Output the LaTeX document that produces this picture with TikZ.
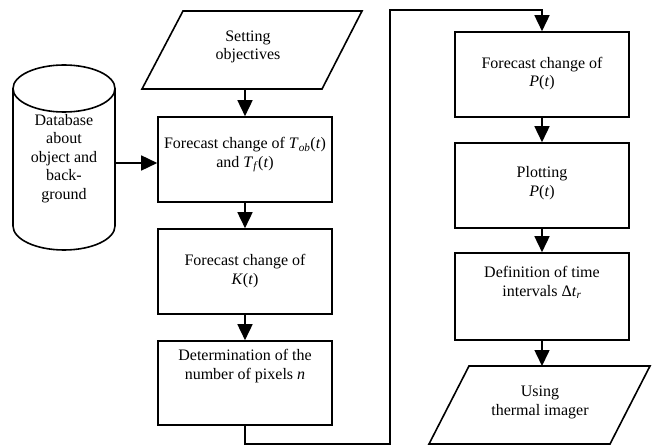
\documentclass[tikz,border=0pt]{standalone}
\usepackage{fontspec}
\setmainfont{Liberation Serif}
\usetikzlibrary{arrows.meta}
\tikzset{
  lbl/.style={align=center, inner sep=0pt, font=\fontsize{16}{18.5}\selectfont},
  procbox/.style={draw, line width=1.6pt, minimum width=174pt, inner sep=0pt},
  shp/.style={line width=1.6pt},
  arr/.style={line width=1.6pt, -{Triangle[length=16pt,width=15pt]}},
}
\newcommand{\itl}[1]{\textit{#1}}
\begin{document}
\begin{tikzpicture}[x=1pt,y=-1pt]
\useasboundingbox (0,0) rectangle (652,446);
% cylinder
\draw[shp] (13,88.5) -- (13,226) arc[start angle=180,end angle=360,x radius=51pt,y radius=24pt] -- (115,88.5);
\draw[shp] (64,88.5) ellipse[x radius=51pt, y radius=23.5pt];
\node[lbl] (db) at (64,158.5) {Database\\about\\object and\\back-\\ground};
\coordinate (dbR) at (115,163);
% input parallelogram
\draw[shp] (142,89) -- (183,11) -- (362,11) -- (322,89) -- cycle;
\node[lbl] (obj) at (248,47) {Setting\\objectives};
\coordinate (objB) at (245,89);
% left column
\node[procbox, minimum height=85pt] (L1) at (245,159.5) {};
\node[lbl] (L1t) at (245,155) {Forecast change of \itl{T}\textsubscript{\itl{ob}}(\itl{t})\\and \itl{T}\textsubscript{\itl{f}}(\itl{t})};
\node[procbox, minimum height=85pt] (L2) at (245,271.5) {};
\node[lbl] (L2t) at (245,271) {Forecast change of\\\itl{K}(\itl{t})};
\node[procbox, minimum height=84pt] (L3) at (245,383) {};
\node[lbl] (L3t) at (245,366) {Determination of the\\number of pixels \itl{n}};
% right column
\node[procbox, minimum height=85pt] (R1) at (542,74.5) {};
\node[lbl] (R1t) at (542,73.5) {Forecast change of\\\itl{P}(\itl{t})};
\node[procbox, minimum height=85pt] (R2) at (542,185.5) {};
\node[lbl] (R2t) at (542,183) {Plotting\\\itl{P}(\itl{t})};
\node[procbox, minimum height=87pt] (R3) at (542,296.5) {};
\node[lbl] (R3t) at (542,282.5) {Definition of time\\intervals Δ\itl{t}\textsubscript{\itl{r}}};
% output parallelogram
\draw[shp] (429,444) -- (469,366) -- (650,366) -- (610,444) -- cycle;
\node[lbl] (use) at (540,402.5) {Using\\thermal imager};
\coordinate (useT) at (542,366);
% connector route
\coordinate (c1) at (245,444);
\coordinate (c2) at (390,444);
\coordinate (c3) at (390,10);
\coordinate (c4) at (542,10);
% arrows
\draw[arr] (objB) -- (L1.north);
\draw[arr] (dbR) -- (dbR -| L1.west);
\draw[arr] (L1.south) -- (L2.north);
\draw[arr] (L2.south) -- (L3.north);
\draw[arr] (L3.south) -- (c1) -- (c2) -- (c3) -- (c4) -- (R1.north);
\draw[arr] (R1.south) -- (R2.north);
\draw[arr] (R2.south) -- (R3.north);
\draw[arr] (R3.south) -- (useT);
\end{tikzpicture}
\end{document}
